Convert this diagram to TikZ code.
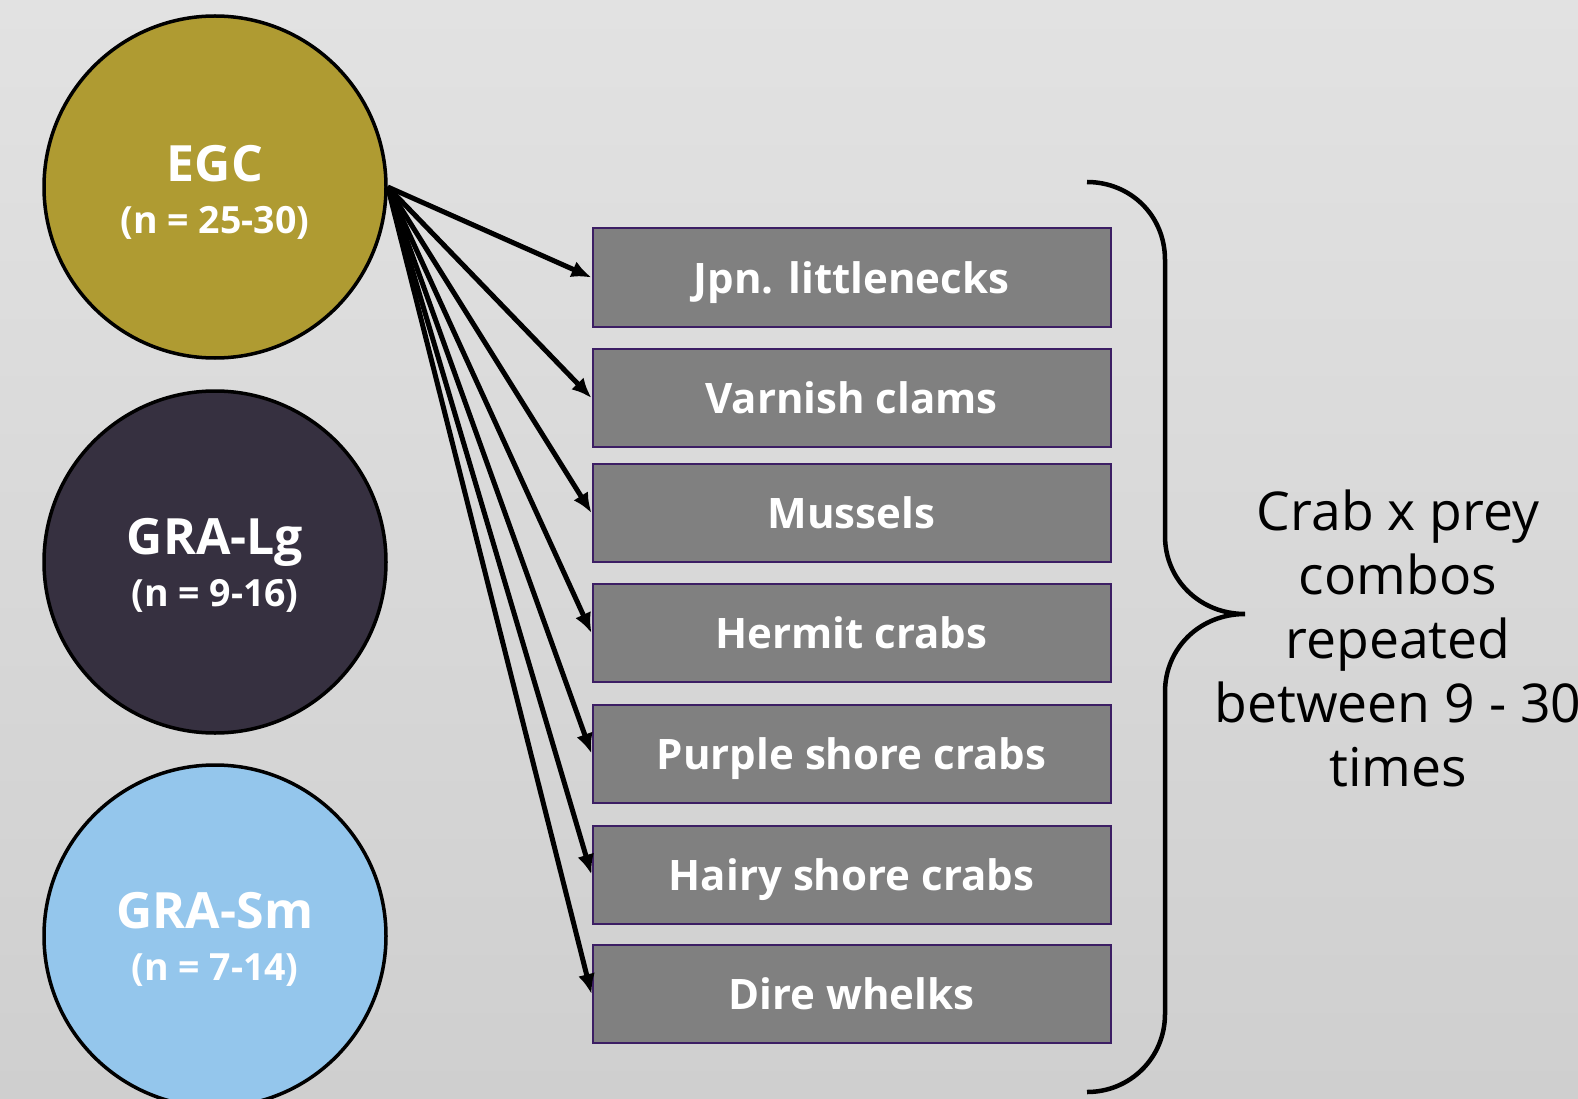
\documentclass[tikz,border=0pt]{standalone}
\usepackage{fontspec}
\setmainfont{Open Sans}
\usetikzlibrary{arrows.meta}
\definecolor{egc}{RGB}{175,155,50}
\definecolor{gralg}{RGB}{54,48,64}
\definecolor{grasm}{RGB}{148,198,236}
\definecolor{boxfill}{RGB}{128,128,128}
\definecolor{boxline}{RGB}{60,30,100}
\definecolor{bgtop}{RGB}{226,226,226}
\definecolor{bgbot}{RGB}{207,207,207}
\newcommand{\crablabel}[2]{#1\\{\fontsize{37.5}{52}\selectfont #2}}
\tikzset{
  crab/.style={circle, draw=black, line width=3.5pt, minimum size=342pt, inner sep=0pt},
  crabtext/.style={text=white, align=center, inner sep=0pt,
    font=\fontsize{50}{52}\selectfont\bfseries},
  prey/.style={rectangle, draw=boxline, line width=2pt, fill=boxfill,
    minimum width=518pt, minimum height=98pt, inner sep=0pt, text=white,
    text height=31pt, text depth=0pt,
    font=\fontsize{42}{48}\selectfont\bfseries},
  feed/.style={line width=5pt, -{Latex[length=20pt,width=17pt]}},
}
\begin{document}
\begin{tikzpicture}[x=1pt,y=-1pt]
\shade[top color=bgtop, bottom color=bgbot] (0,0) rectangle (1578,1099);
\useasboundingbox (0,0) rectangle (1578,1099);
\begin{scope}
\clip (0,0) rectangle (1578,1099);
\node[crab, fill=egc] (egc) at (215,187) {};
\node[crab, fill=gralg] (lg) at (215,562) {};
\node[crab, fill=grasm] (sm) at (215,936) {};
\node[crabtext] (egct) at ([yshift=-5pt]egc.center) {\crablabel{EGC}{(n = 25-30)}};
\node[crabtext] (lgt) at ([yshift=-3pt]lg.center) {\crablabel{GRA-Lg}{(n = 9-16)}};
\node[crabtext] (smt) at ([yshift=-3pt]sm.center) {\crablabel{GRA-Sm}{(n = 7-14)}};

\node[prey] (p1) at (851.5,277.5) {Jpn. littlenecks};
\node[prey] (p2) at (851.5,398) {Varnish clams};
\node[prey] (p3) at (851.5,513) {Mussels};
\node[prey] (p4) at (851.5,633) {Hermit crabs};
\node[prey] (p5) at (851.5,753.5) {Purple shore crabs};
\node[prey] (p6) at (851.5,874.5) {Hairy shore crabs};
\node[prey] (p7) at (851.5,994) {Dire whelks};

\foreach \p in {p1,p2,p3,p4,p5,p6,p7}
  \draw[feed] (egc.east) -- (\p.west);

\draw[line width=4.5pt]
  (1087,182) .. controls (1130,182) and (1165,215) .. (1165,260)
  -- (1165,536) .. controls (1165,580) and (1200,614) .. (1245,614)
  .. controls (1200,614) and (1165,648) .. (1165,692)
  -- (1165,1014) .. controls (1165,1058) and (1130,1092) .. (1087,1092);

\node[align=center, font=\fontsize{53.5}{64}\selectfont, inner sep=0pt] (note) at (1398,638)
  {Crab x prey\\combos\\repeated\\between 9 - 30\\times};
\end{scope}
\end{tikzpicture}
\end{document}
